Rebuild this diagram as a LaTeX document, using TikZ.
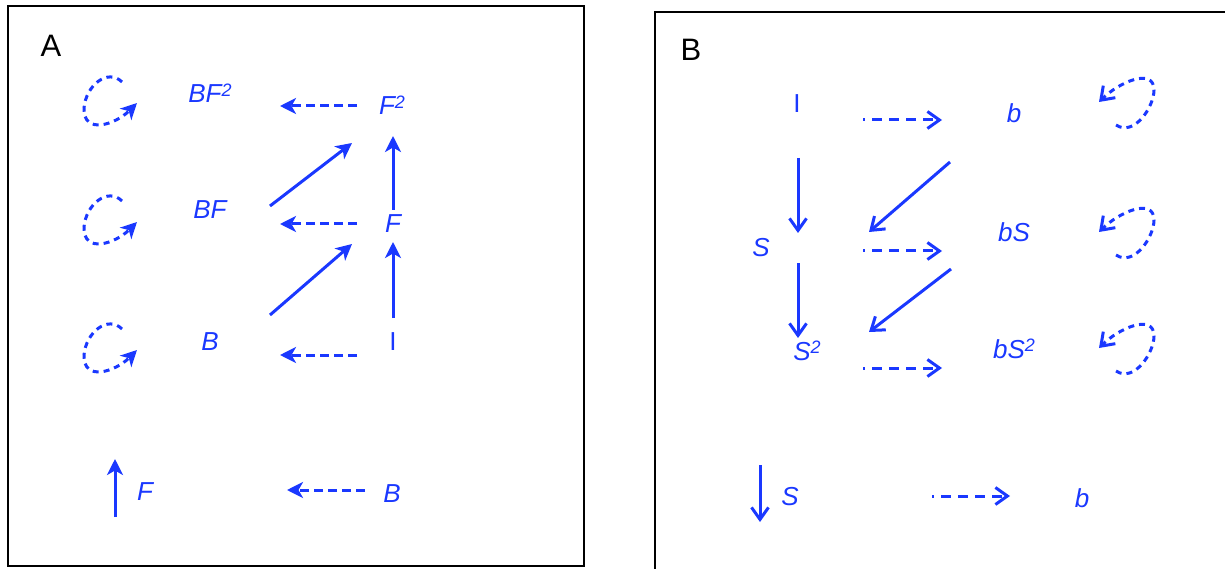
\documentclass[tikz,border=0pt]{standalone}
\usepackage{fontspec}
\setmainfont{Liberation Sans}
\usetikzlibrary{arrows.meta,calc}
\definecolor{arrblue}{RGB}{26,56,255}
\tikzstyle{lbl}=[inner sep=0pt, anchor=base, text=arrblue, font=\fontsize{26}{30}\selectfont\itshape]
\tikzstyle{panel}=[inner sep=0pt, anchor=base, font=\fontsize{31}{36}\selectfont]
\tikzstyle{actA}=[-{Stealth[length=16pt,width=16pt,inset=4.5pt]}]
\tikzstyle{dashA}=[actA, dash pattern=on 9pt off 5pt]
\tikzstyle{actB}=[-{Straight Barb[length=12pt,width=17pt]}]
\tikzstyle{dashB}=[actB, dash pattern=on 10pt off 7pt, dash phase=8pt]
\tikzstyle{loopline}=[draw=arrblue, line width=3pt, dash pattern=on 6pt off 5pt]
\newcommand{\lbl}{\node[lbl]}
\newcommand{\sq}{\raisebox{6.5pt}{\fontsize{18}{18}\selectfont 2}}
% dashed self loops, left panel and right panel
\newcommand{\loopA}[1]{\draw[loopline, actA, shift={(#1)}]
  (-88,-21) .. controls (-102,-35) and (-124,-18) .. (-126,5)
  .. controls (-127,32) and (-95,22) .. (-73,0);}
\newcommand{\loopB}[1]{\draw[loopline, actB, shift={(#1)}]
  (102,13) .. controls (120,25) and (140,-5) .. (140,-22)
  .. controls (140,-45) and (105,-30) .. (85,-10);}

\begin{document}
\begin{tikzpicture}[x=1pt, y=-1pt
    ,every edge/.style={draw, arrblue, line width=3pt}
]
\clip (0,0) rectangle (1225,569);
\draw[line width=2.2pt] (8,6) rectangle (584,566);
\draw[line width=2.2pt] (655,12) rectangle (1260,620);
\node[panel] (labA) at (51,57) {A};
\node[panel] (labB) at (691,61) {B};

% panel A
\lbl (BF2) at (210,103) {BF\sq};
\lbl (F2)  at (392,115) {F\sq};
\lbl (BF)  at (210,219) {BF};
\lbl (F)   at (393,233) {F};
\lbl (B)   at (210,350) {B};
\lbl (I)   at (393,350) {\upshape I};
\lbl (legF) at (145,500) {F};
\lbl (legB) at (392,502) {B};
\path
([shift={(-35,-9)}]F2.base) edge[dashA] ([shift={(70,3)}]BF2.base)
([shift={(-36,-9)}]F.base)  edge[dashA] ([shift={(70,5)}]BF.base)
([shift={(-36,5)}]I.base)   edge[dashA] ([shift={(70,5)}]B.base)
([shift={(60,-13)}]BF.base) edge[actA] ([shift={(-40,28)}]F2.base)
([shift={(60,-35)}]B.base)  edge[actA] ([shift={(-41,11)}]F.base)
([shift={(0,-23)}]F.base)   edge[actA] ([shift={(1,21)}]F2.base)
([shift={(0,-32)}]I.base)   edge[actA] ([shift={(0,9)}]F.base)
([shift={(-30,17)}]legF.base) edge[actA] ([shift={(-30,-41)}]legF.base)
([shift={(-27,-12)}]legB.base) edge[dashA] ([shift={(-105,-12)}]legB.base)
;
\loopA{BF2.base}
\loopA{$(BF.base)+(0,3)$}
\loopA{B.base}

% panel B
\lbl (Ib)  at (797,113) {\upshape I};
\lbl (b)   at (1014,123) {b};
\lbl (S)   at (761,257) {S};
\lbl (bS)  at (1014,242) {bS};
\lbl (S2)  at (807,360) {S\sq};
\lbl (bS2) at (1014,358) {bS\sq};
\lbl (legS) at (790,505) {S};
\lbl (legb) at (1082,507) {b};
\path
([shift={(1,45)}]Ib.base)   edge[actB] ([shift={(37,-24)}]S.base)
([shift={(37,6)}]S.base)    edge[actB] ([shift={(-9,-22)}]S2.base)
([shift={(-64,39)}]b.base)  edge[actB] ([shift={(108,-25)}]S.base)
([shift={(-63,27)}]bS.base) edge[actB] ([shift={(62,-28)}]S2.base)
([shift={(66,7)}]Ib.base)   edge[dashB] ([shift={(-72,-3)}]b.base)
([shift={(102,-6)}]S.base)  edge[dashB] ([shift={(-72,9)}]bS.base)
([shift={(56,8)}]S2.base)   edge[dashB] ([shift={(-72,10)}]bS2.base)
([shift={(-30,-40)}]legS.base) edge[actB] ([shift={(-30,17)}]legS.base)
([shift={(-150,-11)}]legb.base) edge[dashB] ([shift={(-72,-11)}]legb.base)
;
\loopB{$(b.base)+(0,-11)$}
\loopB{bS.base}
\loopB{bS2.base}
\end{tikzpicture}
\end{document}
